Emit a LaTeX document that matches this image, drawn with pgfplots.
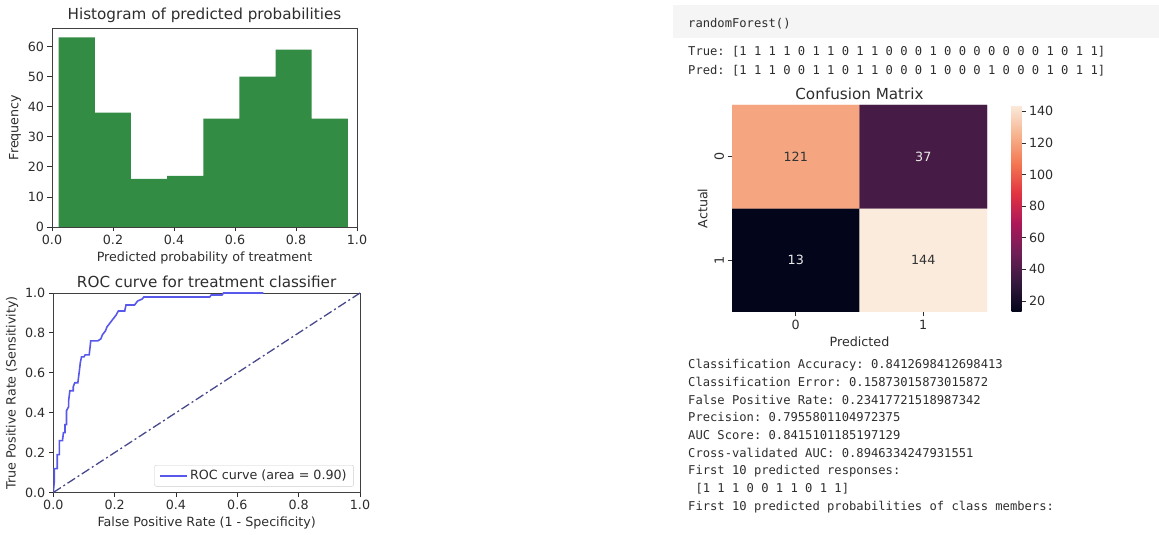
\documentclass[border=0pt]{standalone}
\usepackage{pgfplots}
\pgfplotsset{compat=1.18}
\usepackage{fontspec}
\setmainfont{DejaVu Sans}
\newfontfamily\monofont{DejaVu Sans Mono}

\definecolor{histgreen}{RGB}{50,140,68}
\definecolor{roccol}{RGB}{88,88,235}
\definecolor{diagcol}{RGB}{72,72,140}
\definecolor{codebg}{RGB}{245,245,245}
\definecolor{txt}{RGB}{45,45,45}

\pgfplotsset{
  mpl/.style={
    scale only axis,
    tick align=outside,
    tick pos=left,
    major tick length=4.5bp,
    tick style={txt, line width=0.8bp},
    axis line style={black!75, line width=0.8bp},
    every tick label/.append style={font=\fontsize{12.7bp}{14bp}\selectfont, text=txt},
    label style={font=\fontsize{12.7bp}{14bp}\selectfont, text=txt},
    title style={font=\fontsize{15.2bp}{17bp}\selectfont, text=txt, yshift=-4bp},
    /pgf/number format/assume math mode=true,
  },
}

\newcommand{\mono}{\monofont\fontsize{12.15bp}{14bp}\selectfont\frenchspacing\color{txt}}

\begin{document}
\begin{tikzpicture}
\useasboundingbox (0,0) rectangle (1159bp,535bp);

% ---------------- Histogram ----------------
\begin{axis}[mpl,
  at={(52bp,308bp)}, anchor=south west,
  width=305bp, height=199bp,
  xmin=0, xmax=1, ymin=0, ymax=66.15,
  xtick={0,0.2,0.4,0.6,0.8,1},
  ytick={0,10,20,30,40,50,60},
  xticklabel style={/pgf/number format/.cd, fixed, fixed zerofill, precision=1},
  title={Histogram of predicted probabilities},
  xlabel={Predicted probability of treatment},
  ylabel={Frequency},
]
\addplot[ybar interval, fill=histgreen, draw=none] coordinates {
  (0.0220,63) (0.1405,38) (0.2590,16) (0.3775,17) (0.4960,36)
  (0.6145,50) (0.7330,59) (0.8515,36) (0.9700,36)
};
\end{axis}

% ---------------- ROC curve ----------------
\begin{axis}[mpl,
  at={(53.3bp,42.5bp)}, anchor=south west,
  width=306.7bp, height=199.5bp,
  xmin=0, xmax=1, ymin=0, ymax=1,
  xtick={0,0.2,0.4,0.6,0.8,1},
  ytick={0,0.2,0.4,0.6,0.8,1},
  xticklabel style={/pgf/number format/.cd, fixed, fixed zerofill, precision=1},
  yticklabel style={/pgf/number format/.cd, fixed, fixed zerofill, precision=1},
  title={ROC curve for treatment classifier},
  xlabel={False Positive Rate (1 - Specificity)},
  ylabel={True Positive Rate (Sensitivity)},
  legend style={at={(0.98,0.03)}, anchor=south east, draw=black!20,
    rounded corners=2bp, font=\fontsize{12.7bp}{14bp}\selectfont, text=txt,
    inner xsep=5bp, inner ysep=3bp},
  legend cell align=left,
  legend image code/.code={\draw[#1] (0bp,0bp) -- (27bp,0bp);},
]
\addplot[roccol, line width=1.6bp] coordinates {
  (0,0) (0.003,0.05) (0.003,0.12) (0.013,0.12) (0.013,0.19) (0.020,0.19)
  (0.020,0.26) (0.030,0.26) (0.033,0.30) (0.038,0.30) (0.038,0.34)
  (0.043,0.34) (0.043,0.41) (0.050,0.43) (0.050,0.46) (0.054,0.51)
  (0.065,0.51) (0.065,0.53) (0.070,0.55) (0.080,0.55) (0.085,0.61)
  (0.088,0.65) (0.092,0.68) (0.100,0.68) (0.104,0.69) (0.117,0.69)
  (0.120,0.73) (0.122,0.76) (0.145,0.76) (0.155,0.77) (0.160,0.79)
  (0.170,0.81) (0.175,0.83) (0.185,0.85) (0.195,0.87) (0.205,0.89)
  (0.212,0.91) (0.233,0.91) (0.237,0.94) (0.265,0.94) (0.275,0.96)
  (0.290,0.97) (0.295,0.98) (0.510,0.98) (0.515,0.99) (0.550,0.99)
  (0.555,1.00) (0.685,1.00)
};
\addlegendentry{ROC curve (area = 0.90)}
\addplot[diagcol, line width=1.3bp, dash pattern=on 9bp off 3bp on 2bp off 3bp, forget plot]
  coordinates {(0,0) (1,1)};
\end{axis}

% ---------------- Code cell and text ----------------
\fill[codebg] (673bp,497bp) rectangle (1159bp,530bp);
\node[anchor=mid west, inner sep=0pt] at (688bp,510bp) {\mono randomForest()};
\node[anchor=mid west, inner sep=0pt] at (688bp,482bp) {\mono True: [1 1 1 1 0 1 1 0 1 1 0 0 0 1 0 0 0 0 0 0 0 1 0 1 1]};
\node[anchor=mid west, inner sep=0pt] at (688bp,463.5bp) {\mono Pred: [1 1 1 0 0 1 1 0 1 1 0 0 0 1 0 0 0 1 0 0 0 1 0 1 1]};

\node[anchor=mid west, inner sep=0pt] at (688bp,169bp) {\mono Classification Accuracy: 0.8412698412698413};
\node[anchor=mid west, inner sep=0pt] at (688bp,151.5bp) {\mono Classification Error: 0.15873015873015872};
\node[anchor=mid west, inner sep=0pt] at (688bp,133.5bp) {\mono False Positive Rate: 0.23417721518987342};
\node[anchor=mid west, inner sep=0pt] at (688bp,116bp) {\mono Precision: 0.7955801104972375};
\node[anchor=mid west, inner sep=0pt] at (688bp,98.3bp) {\mono AUC Score: 0.8415101185197129};
\node[anchor=mid west, inner sep=0pt] at (688bp,80.7bp) {\mono Cross-validated AUC: 0.8946334247931551};
\node[anchor=mid west, inner sep=0pt] at (688bp,63bp) {\mono First 10 predicted responses:};
\node[anchor=mid west, inner sep=0pt] at (695.3bp,45bp) {\mono [1 1 1 0 0 1 1 0 1 1]};
\node[anchor=mid west, inner sep=0pt] at (688bp,27.3bp) {\mono First 10 predicted probabilities of class members:};

% ---------------- Confusion matrix ----------------
\begin{axis}[mpl,
  at={(732bp,223bp)}, anchor=south west,
  width=255bp, height=207bp,
  xmin=-0.5, xmax=1.5, ymin=-0.5, ymax=1.5,
  enlargelimits=false,
  axis x line*=bottom, axis y line*=left,
  axis line style={draw=none},
  xtick={0,1}, ytick={0,1},
  xticklabels={0,1}, yticklabels={1,0},
  yticklabel style={rotate=90},
  title={Confusion Matrix},
  xlabel={Predicted}, ylabel={Actual},
  colormap={rocket}{rgb255(0)=(3,5,26) rgb255(1)=(53,25,62) rgb255(2)=(112,31,87)
    rgb255(3)=(173,23,89) rgb255(4)=(225,51,66) rgb255(5)=(243,118,81)
    rgb255(6)=(246,180,143) rgb255(7)=(250,235,221)},
  point meta min=13, point meta max=144,
  colorbar,
  colorbar style={
    scale only axis,
    at={(parent axis.north east)}, anchor=north west, xshift=16bp,
    width=10bp, height=207bp,
    ytick={20,40,60,80,100,120,140},
    ytick pos=right, yticklabel pos=right,
    tick align=outside, major tick length=4bp,
    tick style={txt, line width=0.8bp},
    axis line style={draw=none},
    every tick label/.append style={font=\fontsize{12.7bp}{14bp}\selectfont, text=txt},
    /pgf/number format/assume math mode=true,
  },
]
\addplot[matrix plot*, mesh/cols=2, point meta=explicit] coordinates {
  (0,0) [13] (1,0) [144]
  (0,1) [121] (1,1) [37]
};
\node[font=\fontsize{12.7bp}{14bp}\selectfont, text=black!80] at (axis cs:0,1) {121};
\node[font=\fontsize{12.7bp}{14bp}\selectfont, text=black!8] at (axis cs:1,1) {37};
\node[font=\fontsize{12.7bp}{14bp}\selectfont, text=black!8] at (axis cs:0,0) {13};
\node[font=\fontsize{12.7bp}{14bp}\selectfont, text=black!80] at (axis cs:1,0) {144};
\end{axis}

\end{tikzpicture}
\end{document}
